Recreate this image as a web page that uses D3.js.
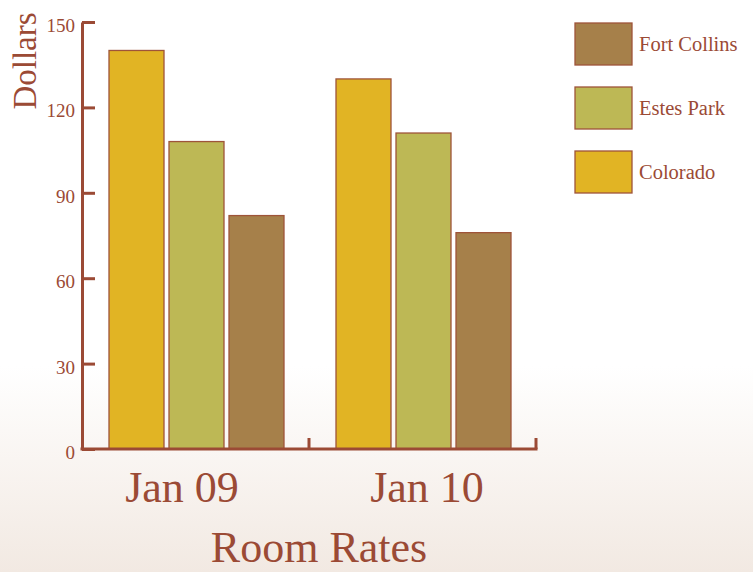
<!DOCTYPE html>
<html><head><meta charset="utf-8">
<script src="https://cdn.jsdelivr.net/npm/d3@7"></script>
<style>html,body{margin:0;padding:0;background:#fff;}svg{display:block;}</style>
</head><body>
<svg id="chart" width="753" height="572"></svg>
<script>
const categories = ["Jan 09", "Jan 10"];
const seriesNames = ["Colorado", "Estes Park", "Fort Collins"];
const colorado = [140, 130];
const estesPark = [108, 111];
const fortCollins = [82, 76];
const yTicks = [0, 30, 60, 90, 120, 150];
const legendOrder = ["Fort Collins", "Estes Park", "Colorado"];
const colors = ["#e1b424", "#bdb855", "#a6804a"];

const seriesValues = [colorado, estesPark, fortCollins];
const ink = "#9b4a35";
const font = "'Liberation Serif', 'DejaVu Serif', serif";

const svg = d3.select("#chart");
const defs = svg.append("defs");
const grad = defs.append("linearGradient").attr("id","bg").attr("x1",0).attr("y1",0).attr("x2",0).attr("y2",1);
grad.append("stop").attr("offset","0.64").attr("stop-color","#ffffff");
grad.append("stop").attr("offset","1").attr("stop-color","#f2e9e2");
svg.append("rect").attr("width",753).attr("height",572).attr("fill","url(#bg)");

const y = d3.scaleLinear().domain([0,150]).range([449,22]);
const x0 = d3.scaleBand().domain(categories).range([82,536]).padding(0);
const x1 = d3.scaleBand().domain(seriesNames).range([27,202]).paddingInner(5/60).paddingOuter(0);
const color = d3.scaleOrdinal().domain(seriesNames).range(colors);

// bars
categories.forEach((c,ci)=>{
  const g = svg.append("g").attr("transform",`translate(${x0(c)},0)`);
  g.selectAll("rect").data(seriesNames.map((s,si)=>({s, v: seriesValues[si][ci]})))
    .join("rect")
    .attr("x", d=>x1(d.s))
    .attr("y", d=>y(d.v))
    .attr("width", x1.bandwidth())
    .attr("height", d=>y(0)-y(d.v))
    .attr("fill", d=>color(d.s))
    .attr("stroke", "#9e5439")
    .attr("stroke-width", 1.3);
});

// y axis
const yAxis = svg.append("g").attr("transform",`translate(82,0)`)
  .call(d3.axisLeft(y).tickValues(yTicks).tickSizeInner(-13).tickSizeOuter(0).tickPadding(7));
yAxis.select(".domain").attr("stroke", ink).attr("stroke-width", 3);
yAxis.selectAll(".tick line").attr("stroke", ink).attr("stroke-width", 3);
yAxis.selectAll(".tick text").attr("fill", ink).attr("font-family", font).attr("font-size", 19).attr("dy","0.5em");

// x axis
const xr = x0.range();
svg.append("line").attr("x1", xr[0]-1.5).attr("x2", xr[1]+1.5).attr("y1", y(0)).attr("y2", y(0))
  .attr("stroke", ink).attr("stroke-width", 3);
svg.selectAll(".xtick").data(categories).join("line").attr("class","xtick")
  .attr("x1", d=>x0(d)+x0.bandwidth()).attr("x2", d=>x0(d)+x0.bandwidth())
  .attr("y1", y(0)).attr("y2", y(0)-11)
  .attr("stroke", ink).attr("stroke-width", 3);

const xl = d3.scalePoint().domain(categories).range([182,427]);
svg.selectAll(".xlab").data(categories).join("text").attr("class","xlab")
  .attr("x", d=>xl(d)).attr("y", 502)
  .attr("text-anchor","middle").attr("fill", ink).attr("font-family", font).attr("font-size", 44)
  .text(d=>d);

svg.append("text").attr("x", 319).attr("y", 562).attr("text-anchor","middle")
  .attr("fill", ink).attr("font-family", font).attr("font-size", 44).text("Room Rates");

svg.append("text").attr("transform","translate(36,61) rotate(-90)").attr("text-anchor","middle")
  .attr("fill", ink).attr("font-family", font).attr("font-size", 33).text("Dollars");

// legend
const lg = svg.append("g").attr("transform","translate(575,23)");
const li = lg.selectAll("g").data(legendOrder).join("g").attr("transform",(d,i)=>`translate(0,${i*64})`);
li.append("rect").attr("width",57).attr("height",42).attr("fill",d=>color(d)).attr("stroke","#9e5439").attr("stroke-width",1.3);
li.append("text").attr("x",64).attr("y",28).attr("fill",ink).attr("font-family",font).attr("font-size",20.5).text(d=>d);
</script>
</body></html>
